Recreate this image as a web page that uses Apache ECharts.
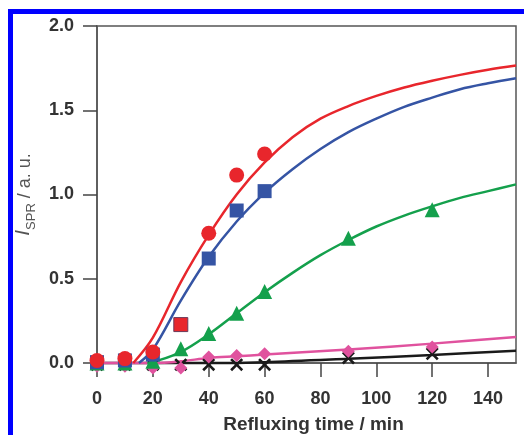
<!DOCTYPE html>
<html>
<head>
<meta charset="utf-8">
<script src="https://cdn.jsdelivr.net/npm/echarts@6/dist/echarts.min.js"></script>
<style>
html,body{margin:0;padding:0;background:#fff;}
#chart{width:524px;height:435px;}
</style>
</head>
<body>
<div id="chart"></div>
<script>
// ---- data ----
var xTicks = [0, 20, 40, 60, 80, 100, 120, 140];
var yTicks = [0, 0.5, 1.0, 1.5, 2.0];

// measured points
var redT = [0, 10, 20, 40, 50, 60];
var redV = [0.015, 0.026, 0.065, 0.77, 1.115, 1.24];
var redSqT = [30];
var redSqV = [0.228];
var blueT = [0, 10, 20, 40, 50, 60];
var blueV = [0.005, 0.015, 0.05, 0.62, 0.905, 1.02];
var greenT = [0, 10, 20, 30, 40, 50, 60, 90, 120];
var greenV = [0, 0, 0.01, 0.085, 0.175, 0.295, 0.425, 0.74, 0.91];
var pinkT = [0, 10, 20, 30, 40, 50, 60, 90, 120];
var pinkV = [-0.02, -0.02, -0.03, -0.03, 0.035, 0.045, 0.055, 0.07, 0.095];
var blackT = [0, 10, 20, 30, 40, 50, 60, 90, 120];
var blackV = [-0.01, -0.01, -0.01, -0.01, -0.01, -0.01, -0.01, 0.03, 0.055];

// fitted curves
var redFitT = [13, 20, 30, 40, 50, 60, 70, 80, 90, 100, 110, 120, 130, 140, 150];
var redFitV = [0, 0.15, 0.48, 0.76, 1.0, 1.19, 1.34, 1.45, 1.525, 1.585, 1.635, 1.675, 1.71, 1.74, 1.765];
var blueFitT = [15, 20, 30, 40, 50, 60, 70, 80, 90, 100, 110, 120, 130, 140, 150];
var blueFitV = [0, 0.08, 0.37, 0.63, 0.84, 1.01, 1.15, 1.27, 1.37, 1.45, 1.52, 1.575, 1.625, 1.66, 1.69];
var greenFitT = [18, 20, 30, 40, 50, 60, 70, 80, 90, 100, 110, 120, 130, 140, 150];
var greenFitV = [0, 0.005, 0.065, 0.17, 0.295, 0.42, 0.535, 0.64, 0.73, 0.81, 0.875, 0.93, 0.98, 1.02, 1.06];
var pinkFitT = [0, 20, 30, 40, 50, 60, 90, 120, 150];
var pinkFitV = [0, 0, 0.01, 0.03, 0.04, 0.05, 0.08, 0.115, 0.155];
var blackFitT = [0, 40, 60, 90, 120, 150];
var blackFitV = [0, 0, 0.005, 0.025, 0.048, 0.072];

function zip(t, v) { return t.map(function (x, i) { return [x, v[i]]; }); }

var RED = '#e8262c', BLUE = '#3554a4', GREEN = '#14a04c', PINK = '#e0529e', BLACK = '#1a1a1a';
var xSym = 'path://M0,2L2,0L7,5L12,0L14,2L9,7L14,12L12,14L7,9L2,14L0,12L5,7Z';

function fit(data, color, z) {
  return { type: 'line', data: data, smooth: 0.35, showSymbol: false, symbol: 'none', silent: true,
    lineStyle: { color: color, width: 2.5 }, z: z, clip: false };
}
function pts(data, color, symbol, size, z, border) {
  return { type: 'scatter', data: data, symbol: symbol, symbolSize: size, z: z, clip: false, silent: true,
    itemStyle: { color: color, opacity: 1, borderColor: border || color, borderWidth: border ? 1 : 0 } };
}

var chart = echarts.init(document.getElementById('chart'), null, { renderer: 'canvas' });
var labelFont = { fontFamily: 'Liberation Sans, Arial, sans-serif', fontWeight: 'bold', fontSize: 18, color: '#333' };

chart.setOption({
  animation: false,
  backgroundColor: '#fff',
  grid: { left: 97, right: 8, top: 26, bottom: 72, show: true, borderColor: '#555', borderWidth: 1.5, backgroundColor: 'transparent', containLabel: false, outerBoundsMode: 'none' },
  xAxis: {
    type: 'value', min: 0, max: 150, interval: 20,
    splitLine: { show: false },
    axisLine: { show: true, lineStyle: { color: '#555', width: 1.5 } },
    axisTick: { show: true, length: 14, inside: false, customValues: xTicks, lineStyle: { color: '#444', width: 1.5 } },
    axisLabel: Object.assign({ margin: 27, customValues: xTicks, formatter: function (v) { return String(v); } }, labelFont),
    name: 'Refluxing time / min', nameLocation: 'middle', nameGap: 52,
    nameTextStyle: { fontFamily: 'Liberation Sans, Arial, sans-serif', fontWeight: 'bold', fontSize: 19, color: '#333', padding: [0, 0, 0, 14] }
  },
  yAxis: {
    type: 'value', min: 0, max: 2, interval: 0.5,
    splitLine: { show: false },
    axisLine: { show: true, lineStyle: { color: '#555', width: 1.5 } },
    axisTick: { show: true, length: 14, inside: false, customValues: yTicks, lineStyle: { color: '#444', width: 1.5 } },
    axisLabel: Object.assign({ margin: 23, customValues: yTicks, formatter: function (v) { return v.toFixed(1); } }, labelFont),
    name: '{i|I}{s|SPR}{n| / a. u.}', nameLocation: 'middle', nameGap: 60, nameRotate: 90,
    nameTextStyle: {
      rich: {
        i: { fontFamily: 'Liberation Sans, Arial, sans-serif', fontStyle: 'italic', fontSize: 21, color: '#555', lineHeight: 26, verticalAlign: 'bottom' },
        s: { fontFamily: 'Liberation Sans, Arial, sans-serif', fontSize: 13, color: '#555', lineHeight: 26, verticalAlign: 'bottom', padding: [0, 0, -4, 0] },
        n: { fontFamily: 'Liberation Sans, Arial, sans-serif', fontSize: 18, color: '#555', lineHeight: 26, verticalAlign: 'bottom' }
      }
    }
  },
  graphic: [
    { type: 'rect', shape: { x: 10.5, y: 11.5, width: 1000, height: 1000 }, style: { fill: null, stroke: '#0000ff', lineWidth: 5 }, z: 100, silent: true }
  ],
  series: [
    fit(zip(blackFitT, blackFitV), BLACK, 2),
    fit(zip(pinkFitT, pinkFitV), PINK, 3),
    fit(zip(greenFitT, greenFitV), GREEN, 4),
    fit(zip(blueFitT, blueFitV), BLUE, 5),
    fit(zip(redFitT, redFitV), RED, 6),
    pts(zip(blackT, blackV), BLACK, xSym, 13, 7),
    pts(zip(pinkT, pinkV), PINK, 'diamond', 13, 8),
    pts(zip(greenT, greenV), GREEN, 'triangle', 15, 9),
    pts(zip(blueT, blueV), BLUE, 'rect', 14, 10),
    pts(zip(redSqT, redSqV), RED, 'rect', 14, 11, '#6a3a5a'),
    pts(zip(redT, redV), RED, 'circle', 15, 12)
  ]
});
</script>
</body>
</html>
